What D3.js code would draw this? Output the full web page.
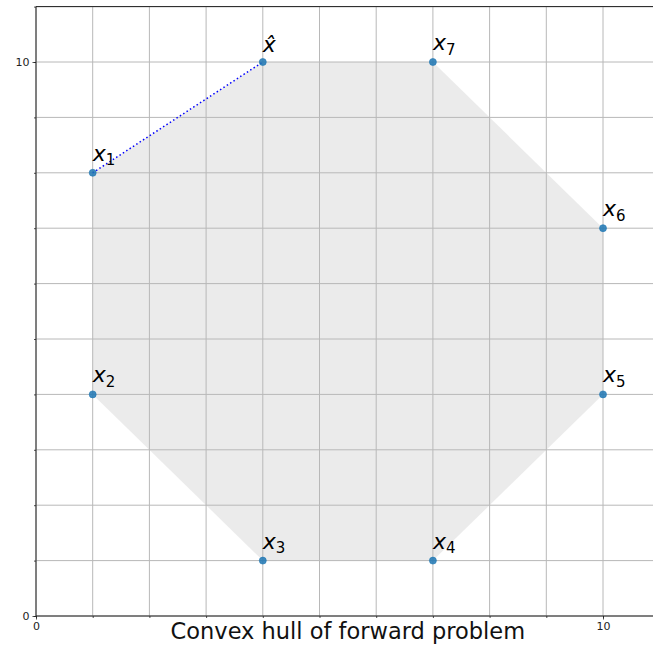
<!DOCTYPE html>
<html>
<head>
<meta charset="utf-8">
<script src="https://cdn.jsdelivr.net/npm/d3@7"></script>
<style>
  html, body { margin: 0; padding: 0; background: #fff; }
  svg { display: block; }
  text { font-family: "DejaVu Sans", sans-serif; }
</style>
</head>
<body>
<div id="chart"></div>
<script>
// Data
const pointNames = ["1", "2", "3", "4", "5", "6", "7"];
const pointX = [1, 1, 4, 7, 10, 10, 7];
const pointY = [8, 4, 1, 1, 4, 7, 10];
const hatX = 4, hatY = 10;
const xTickLabels = [0, 10];
const yTickLabels = [0, 10];
const minorTicks = d3.range(0, 12);
const title = "Convex hull of forward problem";

const W = 653, H = 646;
const x = d3.scaleLinear().domain([0, 11]).range([36, 36 + 11 * 56.7]);
const y = d3.scaleLinear().domain([0, 11]).range([616, 616 - 11 * 55.4]);

const svg = d3.select("#chart").append("svg").attr("width", W).attr("height", H);

const x0 = x(0), x1 = x(11), y0 = y(0), y1 = y(11);

// hull polygon
const allPts = pointX.map((v, i) => [v, pointY[i]]).concat([[hatX, hatY]]);
const hull = d3.polygonHull(allPts);
svg.append("path")
  .attr("d", "M" + hull.map(p => [x(p[0]), y(p[1])].join(",")).join("L") + "Z")
  .attr("fill", "#d3d3d3").attr("fill-opacity", 0.45).attr("stroke", "none");

// grid
const grid = svg.append("g").attr("stroke", "#b8b8b8").attr("stroke-width", 1);
minorTicks.forEach(t => {
  grid.append("line").attr("x1", x(t)).attr("x2", x(t)).attr("y1", y0).attr("y2", y1);
  grid.append("line").attr("x1", x0).attr("x2", x1).attr("y1", y(t)).attr("y2", y(t));
});

// axes
const xAxis = d3.axisBottom(x).tickValues(xTickLabels).tickSize(3.5).tickPadding(3);
const xMinor = d3.axisBottom(x).tickValues(minorTicks).tickSize(2).tickFormat("");
const yAxis = d3.axisLeft(y).tickValues(yTickLabels).tickSize(3.5).tickPadding(3);
const yMinor = d3.axisLeft(y).tickValues(minorTicks).tickSize(2).tickFormat("");

[xMinor, xAxis].forEach(ax => {
  const g = svg.append("g").attr("transform", `translate(0,${y0})`).call(ax);
  g.select(".domain").remove();
  g.selectAll("line").attr("stroke", "#222").attr("stroke-width", 0.8);
  g.selectAll("text").attr("font-size", 11).attr("fill", "#222").attr("font-family", "DejaVu Sans");
});
[yMinor, yAxis].forEach(ax => {
  const g = svg.append("g").attr("transform", `translate(${x0},0)`).call(ax);
  g.select(".domain").remove();
  g.selectAll("line").attr("stroke", "#222").attr("stroke-width", 0.8);
  g.selectAll("text").attr("font-size", 11).attr("fill", "#222").attr("font-family", "DejaVu Sans");
});

// spines
svg.append("line").attr("x1", x0).attr("x2", x0).attr("y1", y0).attr("y2", y1).attr("stroke", "#222").attr("stroke-width", 1);
svg.append("line").attr("x1", x0).attr("x2", x1).attr("y1", y0).attr("y2", y0).attr("stroke", "#222").attr("stroke-width", 1);
svg.append("line").attr("x1", x0).attr("x2", x1).attr("y1", y1).attr("y2", y1).attr("stroke", "#222").attr("stroke-width", 1);

// dotted line x1 -> xhat
svg.append("line")
  .attr("x1", x(pointX[0])).attr("y1", y(pointY[0]))
  .attr("x2", x(hatX)).attr("y2", y(hatY))
  .attr("stroke", "#0000ff").attr("stroke-width", 1.5)
  .attr("stroke-dasharray", "1.5,2.5");

// points
const pts = svg.append("g");
allPts.forEach(p => {
  pts.append("circle").attr("cx", x(p[0])).attr("cy", y(p[1])).attr("r", 3.5)
    .attr("fill", "#1f77b4").attr("fill-opacity", 0.85).attr("stroke", "#1f77b4").attr("stroke-width", 0.6);
});

// labels
pointNames.forEach((n, i) => {
  const t = svg.append("text")
    .attr("x", x(pointX[i])).attr("y", y(pointY[i]) - 12)
    .attr("font-size", 22).attr("fill", "#000");
  t.append("tspan").attr("font-style", "oblique").text("x");
  t.append("tspan").attr("font-size", 15).attr("dy", 4.5).text(n);
});
svg.append("text")
  .attr("x", x(hatX)).attr("y", y(hatY) - 10)
  .attr("font-size", 22).attr("font-style", "oblique").attr("fill", "#000")
  .text("x\u0302");

// title
svg.append("text")
  .attr("x", (x0 + x1) / 2).attr("y", 639)
  .attr("text-anchor", "middle").attr("font-size", 22.5).attr("fill", "#111")
  .text(title);
</script>
</body>
</html>
